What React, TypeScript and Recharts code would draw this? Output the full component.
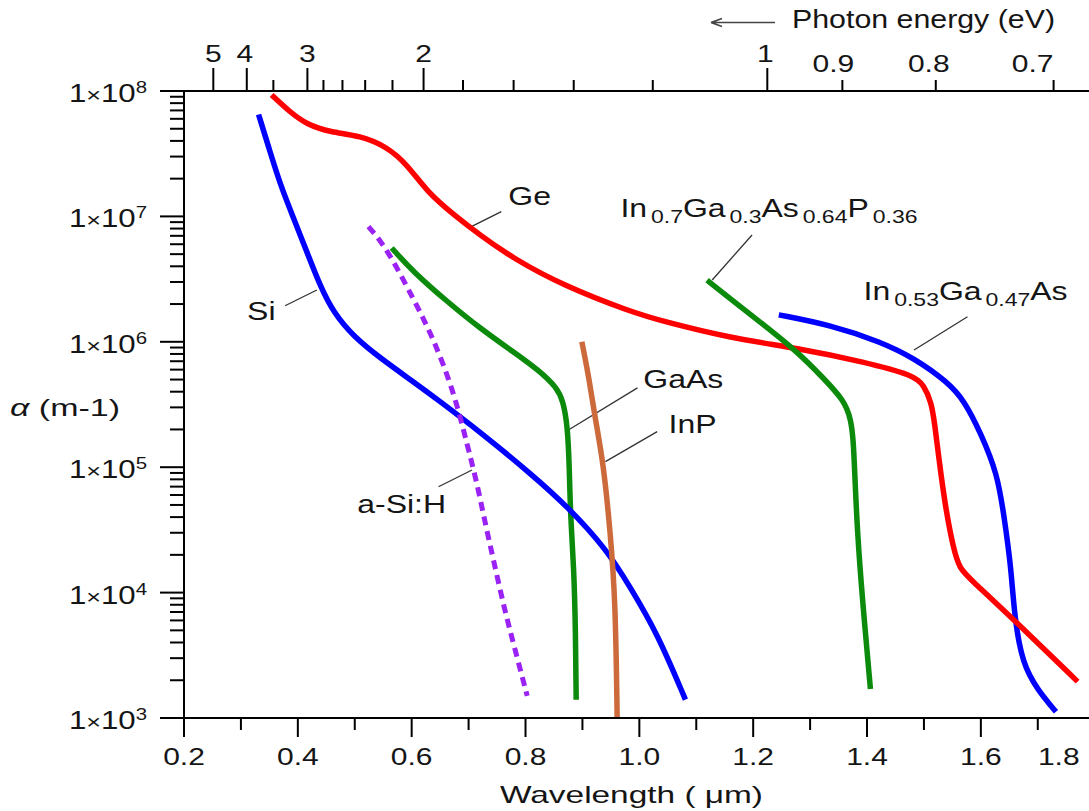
import React from 'react';
import { LineChart, Line, XAxis, YAxis, ReferenceLine, ReferenceDot } from 'recharts';

// ---------- data (wavelength in µm, absorption coefficient in 1/m) ----------
const siWavelength = [0.331, 0.351, 0.369, 0.392, 0.416, 0.439, 0.463, 0.498, 0.545, 0.603, 0.644, 0.721, 0.809, 0.873, 0.943, 0.984, 1.031, 1.081];
const siAlpha = [6.5e7, 3.3e7, 1.8e7, 9.8e6, 5.2e6, 2.8e6, 1.7e6, 1.1e6, 7.4e5, 4.8e5, 3.5e5, 1.9e5, 8.9e4, 4.9e4, 2.2e4, 1.1e4, 4.8e3, 1.4e3];

const geWavelength = [0.354, 0.386, 0.416, 0.457, 0.51, 0.556, 0.592, 0.627, 0.674, 0.72, 0.779, 0.867, 0.984, 1.043, 1.16, 1.278, 1.395, 1.483, 1.5, 1.513, 1.519, 1.526, 1.537, 1.552, 1.563, 1.58, 1.653, 1.77];
const geAlpha = [9.3e7, 6.8e7, 5.4e7, 4.7e7, 4.4e7, 3.6e7, 2.6e7, 1.57e7, 1.03e7, 7.1e6, 4.6e6, 2.8e6, 1.74e6, 1.45e6, 1.07e6, 8.9e5, 6.9e5, 5.4e5, 4.5e5, 3.3e5, 2.2e5, 1.2e5, 5.0e4, 2.2e4, 1.55e4, 1.3e4, 6.4e3, 1.95e3];

const aSiWavelength = [0.524, 0.556, 0.603, 0.638, 0.674, 0.697, 0.715, 0.729, 0.744, 0.762, 0.779, 0.803];
const aSiAlpha = [8.3e6, 5.6e6, 2.2e6, 1.07e6, 4.0e5, 1.55e5, 7.4e4, 3.6e4, 1.8e4, 7.7e3, 3.9e3, 1.5e3];

const gaAsWavelength = [0.565, 0.603, 0.662, 0.72, 0.779, 0.826, 0.855, 0.866, 0.874, 0.877, 0.879, 0.885, 0.888, 0.889];
const gaAsAlpha = [5.6e6, 3.6e6, 2.1e6, 1.28e6, 8.3e5, 5.8e5, 4.3e5, 3.4e5, 2.1e5, 1.0e5, 4.0e4, 1.6e4, 4.7e3, 1.4e3];

const inPWavelength = [0.899, 0.912, 0.922, 0.937, 0.949, 0.958, 0.961];
const inPAlpha = [1.0e6, 5.0e5, 2.5e5, 1.07e5, 3.0e4, 8.7e3, 1.0e3];

const inGaAsPWavelength = [1.119, 1.16, 1.219, 1.278, 1.324, 1.36, 1.372, 1.376, 1.378, 1.383, 1.392, 1.406];
const inGaAsPAlpha = [3.1e6, 2.2e6, 1.36e6, 8.3e5, 5.1e5, 3.4e5, 2.4e5, 1.6e5, 1.0e5, 3.0e4, 8.7e3, 1.7e3];

const inGaAsWavelength = [1.245, 1.336, 1.424, 1.483, 1.541, 1.571, 1.6, 1.629, 1.641, 1.653, 1.659, 1.673, 1.7, 1.732];
const inGaAsAlpha = [1.64e6, 1.36e6, 1.0e6, 7.4e5, 4.8e5, 3.4e5, 1.86e5, 8.9e4, 4.0e4, 1.6e4, 6.4e3, 2.7e3, 1.67e3, 1.12e3];

// ---------- axes / ticks ----------
const xDomain = [0.2, 1.79];
const bottomMajorTicks = [0.2, 0.4, 0.6, 0.8, 1.0, 1.2, 1.4, 1.6];
const bottomMinorTicks = [0.3, 0.5, 0.7, 0.9, 1.1, 1.3, 1.5, 1.7];
const bottomEdgeLabel = '1.8';

const yDomain = [1e3, 1e8];
const yDecades = [1e3, 1e4, 1e5, 1e6, 1e7, 1e8];
const yMinorMultipliers = [2, 3, 4, 5, 6, 7, 8, 9];

const photonEnergies = [5, 4, 3.5, 3, 2.8, 2.6, 2.4, 2.2, 2, 1.8, 1.6, 1.4, 1.2, 1, 0.9, 0.8, 0.7];
const photonTickWavelengths = [0.2515, 0.3103, 0.357, 0.4168, 0.445, 0.4784, 0.5183, 0.5663, 0.6209, 0.6902, 0.7791, 0.8847, 1.0236, 1.2248, 1.3567, 1.5208, 1.7278];
const photonLongTicks = [5, 4, 3, 2, 1];
const photonLabels = ['5', '4', '3', '2', '1', '0.9', '0.8', '0.7'];
const photonLabelValues = [5, 4, 3, 2, 1, 0.9, 0.8, 0.7];
const photonLabelShift = [0, -2, 0, 0, -2, -9, -7, -21];

// ---------- annotations ----------
type Part = { t: string; sub?: boolean };
const annotations: { parts: Part[]; at: [number, number]; leader: [[number, number], [number, number]] }[] = [
  { parts: [{ t: 'Ge' }], at: [0.7698, 1.233e7], leader: [[0.7575, 1.09e7], [0.6995, 8.07e6]] },
  { parts: [{ t: 'Si' }], at: [0.3108, 1.49e6], leader: [[0.3776, 1.94e6], [0.4334, 2.59e6]] },
  {
    parts: [{ t: 'In' }, { t: '0.7', sub: true }, { t: 'Ga' }, { t: '0.3', sub: true }, { t: 'As' }, { t: '0.64', sub: true }, { t: 'P' }, { t: '0.36', sub: true }],
    at: [0.9668, 9.9e6], leader: [[1.198, 7.11e6], [1.128, 3.11e6]],
  },
  {
    parts: [{ t: 'In' }, { t: '0.53', sub: true }, { t: 'Ga' }, { t: '0.47', sub: true }, { t: 'As' }],
    at: [1.394, 2.15e6], leader: [[1.5765, 1.585e6], [1.4826, 8.6e5]],
  },
  { parts: [{ t: 'GaAs' }], at: [1.007, 4.29e5], leader: [[0.8753, 1.98e5], [0.9967, 4.29e5]] },
  { parts: [{ t: 'InP' }], at: [1.0512, 1.87e5], leader: [[0.9404, 1.107e5], [1.0313, 1.92e5]] },
  { parts: [{ t: 'a-Si:H' }], at: [0.5043, 4.31e4], leader: [[0.6472, 6.98e4], [0.706, 9.5e4]] },
];

// ---------- helpers ----------
const FONT = "'Liberation Sans', Arial, Helvetica, sans-serif";
const TXT = '#151515';

const toRows = (w: number[], a: number[]) => w.map((v, i) => ({ w: v, a: a[i] }));
const siData = toRows(siWavelength, siAlpha);
const geData = toRows(geWavelength, geAlpha);
const aSiData = toRows(aSiWavelength, aSiAlpha);
const gaAsData = toRows(gaAsWavelength, gaAsAlpha);
const inPData = toRows(inPWavelength, inPAlpha);
const inGaAsPData = toRows(inGaAsPWavelength, inGaAsPAlpha);
const inGaAsData = toRows(inGaAsWavelength, inGaAsAlpha);

const yTicks: number[] = [];
yDecades.forEach((d, i) => {
  yTicks.push(d);
  if (i < yDecades.length - 1) yMinorMultipliers.forEach((m) => yTicks.push(d * m));
});
const bottomTicks = [...bottomMajorTicks, ...bottomMinorTicks].sort((p, q) => p - q);

const near = (p: number, q: number) => Math.abs(p - q) < 1e-6 * Math.max(1, Math.abs(q));

const STxt = ({ x, y, anchor = 'middle', size = 24, sx = 1.25, children }: any) => (
  <text
    transform={`translate(${x},${y}) scale(${sx},1)`}
    textAnchor={anchor}
    fontFamily={FONT}
    fontSize={size}
    fill={TXT}
  >
    {children}
  </text>
);

const YTick = (props: any) => {
  const { x, y, payload } = props;
  const v = payload.value;
  const isMajor = yDecades.some((d) => near(v, d));
  const exp = Math.round(Math.log10(v));
  return (
    <g>
      <line x1={x - (isMajor ? 24 : 14)} x2={x} y1={y} y2={y} stroke="#000" strokeWidth={2} />
      {isMajor && (
        <text
          transform={`translate(${x - 37},${y + 11}) scale(1.2,1)`}
          textAnchor="end"
          fontFamily={FONT}
          fontSize={26}
          fill={TXT}
        >
          1<tspan fontSize={21} fontWeight={300}>×</tspan>10
          <tspan fontSize={17} dy={-9}>{exp}</tspan>
        </text>
      )}
    </g>
  );
};

const BottomTick = (props: any) => {
  const { x, y, payload } = props;
  const v = payload.value;
  const isMajor = bottomMajorTicks.some((m) => near(v, m));
  const isLast = near(v, bottomMinorTicks[bottomMinorTicks.length - 1]);
  return (
    <g>
      <line x1={x} x2={x} y1={y} y2={y + (isMajor ? 19 : 12)} stroke="#000" strokeWidth={2} />
      {isMajor && <STxt x={x} y={y + 47}>{v.toFixed(1)}</STxt>}
      {isLast && <STxt x={x + 21} y={y + 47}>{bottomEdgeLabel}</STxt>}
    </g>
  );
};

const TopTick = (props: any) => {
  const { x, y, payload } = props;
  const idx = photonTickWavelengths.findIndex((w) => near(w, payload.value));
  const e = photonEnergies[idx];
  const isLong = photonLongTicks.some((l) => near(l, e));
  const li = photonLabelValues.findIndex((l) => near(l, e));
  return (
    <g>
      <line x1={x} x2={x} y1={y} y2={y - (isLong ? 23 : 11)} stroke="#000" strokeWidth={2} />
      {li >= 0 && (
        <STxt x={x + photonLabelShift[li]} y={y - (isLong ? 29 : 19)}>
          {photonLabels[li]}
        </STxt>
      )}
    </g>
  );
};

const AnnotationText = ({ parts }: { parts: Part[] }) => (props: any) => {
  const { cx, cy } = props;
  let prevSub = false;
  return (
    <text
      transform={`translate(${cx},${cy}) scale(1.28,1)`}
      textAnchor="start"
      fontFamily={FONT}
      fontSize={25}
      fill={TXT}
    >
      {parts.map((p, i) => {
        const dy = p.sub ? (prevSub ? 0 : 6) : prevSub ? -6 : 0;
        prevSub = !!p.sub;
        return (
          <tspan key={i} dy={dy} dx={p.sub ? 3 : 0} fontSize={p.sub ? 18 : 25}>
            {p.t}
          </tspan>
        );
      })}
    </text>
  );
};

const lineCommon = {
  dataKey: 'a',
  type: 'basis' as const,
  dot: false,
  activeDot: false,
  isAnimationActive: false,
  strokeWidth: 5.5,
};

export default function App() {
  return (
    <div style={{ position: 'absolute', left: 0, top: 0, width: 1089, height: 811, background: '#fff' }}>
      <LineChart width={1089} height={811} margin={{ top: 31, right: 0, bottom: 33, left: 84 }}>
        <XAxis
          dataKey="w"
          type="number"
          domain={xDomain}
          allowDataOverflow
          ticks={bottomTicks}
          interval={0}
          tick={<BottomTick />}
          tickLine={false}
          tickSize={0}
          tickMargin={0}
          height={60}
          axisLine={{ stroke: '#000', strokeWidth: 2 }}
        />
        <XAxis
          xAxisId="top"
          orientation="top"
          dataKey="w"
          type="number"
          domain={xDomain}
          allowDataOverflow
          ticks={photonTickWavelengths}
          interval={0}
          tick={<TopTick />}
          tickLine={false}
          tickSize={0}
          tickMargin={0}
          height={60}
          axisLine={{ stroke: '#000', strokeWidth: 2 }}
        />
        <YAxis
          type="number"
          scale="log"
          domain={yDomain}
          allowDataOverflow
          ticks={yTicks}
          interval={0}
          tick={<YTick />}
          tickLine={false}
          tickSize={0}
          tickMargin={0}
          width={100}
          axisLine={{ stroke: '#000', strokeWidth: 2 }}
        />

        {annotations.map((an, i) => (
          <ReferenceLine
            key={'l' + i}
            segment={[
              { x: an.leader[0][0], y: an.leader[0][1] },
              { x: an.leader[1][0], y: an.leader[1][1] },
            ]}
            stroke="#333"
            strokeWidth={1.3}
          />
        ))}

        <Line {...lineCommon} data={gaAsData} stroke="#0b8a0b" name="GaAs" />
        <Line {...lineCommon} data={siData} stroke="#0000ff" name="Si" />
        <Line {...lineCommon} data={inPData} stroke="#cc6a3c" name="InP" />
        <Line {...lineCommon} data={aSiData} stroke="#9a22f5" strokeWidth={5} strokeDasharray="9 6" name="a-Si:H" />
        <Line {...lineCommon} data={inGaAsData} stroke="#0000ff" name="In0.53Ga0.47As" />
        <Line {...lineCommon} data={geData} stroke="#ff0000" name="Ge" />
        <Line {...lineCommon} data={inGaAsPData} stroke="#0b8a0b" name="In0.7Ga0.3As0.64P0.36" />

        {annotations.map((an, i) => (
          <ReferenceDot
            key={'t' + i}
            x={an.at[0]}
            y={an.at[1]}
            r={1}
            fill="none"
            stroke="none"
            shape={AnnotationText({ parts: an.parts })}
          />
        ))}
      </LineChart>

      <svg
        width={1089}
        height={811}
        style={{ position: 'absolute', left: 0, top: 0, pointerEvents: 'none' }}
      >
        <path d="M711,22.5 L775,22.5 M711,22.5 L722,18.5 M711,22.5 L722,26.5" stroke="#444" strokeWidth={1.5} fill="none" />
        <text x={792} y={28} fontFamily={FONT} fontSize={25} fill={TXT} textLength={263} lengthAdjust="spacingAndGlyphs">
          Photon energy (eV)
        </text>
        <text x={500} y={803} fontFamily={FONT} fontSize={24} fill={TXT} textLength={263} lengthAdjust="spacingAndGlyphs">
          Wavelength (  μm)
        </text>
        <text x={10} y={416} fontFamily={FONT} fontSize={24} fill={TXT} textLength={110} lengthAdjust="spacingAndGlyphs">
          <tspan fontStyle="italic">α</tspan> (m-1)
        </text>
      </svg>
    </div>
  );
}
